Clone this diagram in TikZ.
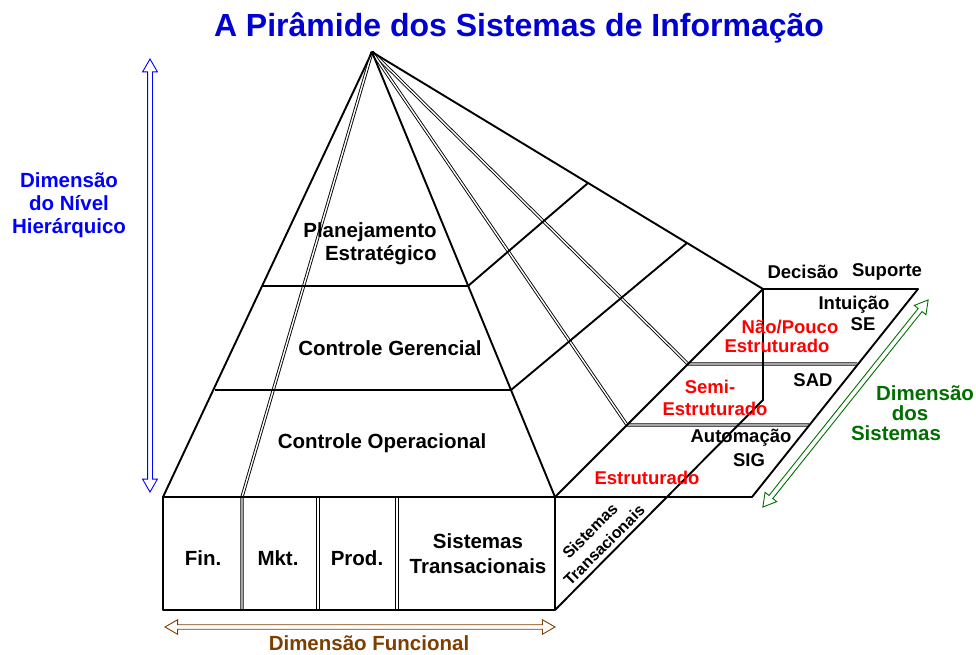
\documentclass[tikz,border=0pt]{standalone}
\usepackage{fontspec}
\setmainfont{Liberation Sans}
\usetikzlibrary{shapes.arrows}
\definecolor{titleblue}{RGB}{0,0,210}
\definecolor{darkgreen}{RGB}{0,110,0}
\definecolor{brownish}{RGB}{125,62,0}

\tikzset{
  rim/.style={line width=1.9pt, line join=round},
  dbl/.style={double=white, double distance=1.4pt, line width=0.9pt},
  lbl/.style={font=\fontsize{20.5}{23}\selectfont\bfseries, align=center, inner sep=0pt},
  plane lbl/.style={font=\fontsize{18.5}{20}\selectfont\bfseries, inner sep=0pt},
  hollow arrow/.style={double arrow, draw=#1, line width=0.9pt, inner xsep=0pt,
    inner ysep=2pt, double arrow head extend=5pt, double arrow tip angle=60}
}

\begin{document}
\begin{tikzpicture}[x=1pt, y=-1pt]
  \useasboundingbox (0,0) rectangle (976,654);

  % Pyramid corners
  \coordinate (apex) at (372,52);
  \coordinate (fl) at (163,497);
  \coordinate (fr) at (555,497);
  \coordinate (bk) at (763,289);
  % Level lines
  \coordinate (l1L) at (263,286);
  \coordinate (l1R) at (468,286);
  \coordinate (l1B) at (588,183);
  \coordinate (l2L) at (215,390);
  \coordinate (l2R) at (511,390);
  \coordinate (l2B) at (687,243);
  % Division points
  \coordinate (dF) at (242,497);
  \coordinate (d1) at (688,364);
  \coordinate (d1r) at (857,364);
  \coordinate (d2) at (627,425);
  \coordinate (d2r) at (809,425);
  % Slab and plane
  \coordinate (bl) at (163,610);
  \coordinate (br) at (555,610);
  \coordinate (bkb) at (763,400);
  \coordinate (pr) at (752,497);
  \coordinate (pt) at (918,289);

  % Double division lines
  \draw[dbl] (apex) -- (d1) -- (d1r);
  \draw[dbl] (apex) -- (d2) -- (d2r);
  \draw[dbl] (apex) -- (dF) -- (242,610);
  \draw[dbl] (318,497) -- (318,610);
  \draw[dbl] (397,497) -- (397,610);

  % Pyramid
  \draw[rim] (fl) -- (apex) -- (fr);
  \draw[rim] (apex) -- (bk);
  \draw[rim] (l1L) -- (l1R) -- (l1B);
  \draw[rim] (l2L) -- (l2R) -- (l2B);

  % Slab and top plane
  \draw[rim] (fl) rectangle (br);
  \draw[rim] (fr) -- (bk) -- (bkb) -- (br);
  \draw[rim] (fr) -- (pr) -- (pt) -- (bk);

  % Texts
  \node[font=\fontsize{32}{38}\selectfont\bfseries, text=titleblue, inner sep=0pt]
    (title) at (519,28) {A Pirâmide dos Sistemas de Informação};
  \node[lbl, align=right] (strat) at (370,244) {Planejamento\\Estratégico};
  \node[lbl] (gerencial) at (390,348) {Controle Gerencial};
  \node[lbl] (operacional) at (382,443) {Controle Operacional};
  \node[lbl] (fin) at (203,558) {Fin.};
  \node[lbl] (mkt) at (278,558) {Mkt.};
  \node[lbl] (prod) at (357,558) {Prod.};
  \node[lbl] (transac) at (478,554) {Sistemas\\[2pt]Transacionais};
  \node[font=\fontsize{16}{20}\selectfont\bfseries, align=center, inner sep=0pt,
    rotate=45] (sidetrans) at (597,538) {Sistemas\\Transacionais};

  \node[plane lbl] (decisao) at (803,272) {Decisão};
  \node[plane lbl] (suporte) at (887,272) {Suporte};
  \node[plane lbl] (intuicao) at (854,305) {Intuição};
  \node[plane lbl] (se) at (863,324) {SE};
  \node[plane lbl, text=red] (naopouco) at (790,327) {Não/Pouco};
  \node[plane lbl, text=red] (naoestr) at (777,346) {Estruturado};
  \node[plane lbl] (sad) at (813,380) {SAD};
  \node[plane lbl, text=red] (semi) at (710,387) {Semi-};
  \node[plane lbl, text=red] (semiestr) at (715,409) {Estruturado};
  \node[plane lbl] (automacao) at (741,438) {Automação};
  \node[plane lbl] (sig) at (749,460) {SIG};
  \node[plane lbl, text=red] (estr) at (647,478) {Estruturado};

  % Dimensions
  \node[hollow arrow=blue, minimum height=433pt, rotate=90] (hierarrow) at (150,275.5) {};
  \node[lbl, text=blue] (hierlbl) at (69,205) {Dimensão\\do Nível\\Hierárquico};
  \node[hollow arrow=brownish, inner ysep=1.8pt, minimum height=390pt] (funcarrow) at (360,627) {};
  \node[lbl, text=brownish] (funclbl) at (369,643) {Dimensão Funcional};
  \node[hollow arrow=darkgreen, minimum height=265pt, rotate=51.4] (sysarrow) at (845.5,403.5) {};
  \node[lbl, text=darkgreen] (sys1) at (925,393) {Dimensão};
  \node[lbl, text=darkgreen] (sys2) at (910,413) {dos};
  \node[lbl, text=darkgreen] (sys3) at (896,433) {Sistemas};
\end{tikzpicture}
\end{document}
